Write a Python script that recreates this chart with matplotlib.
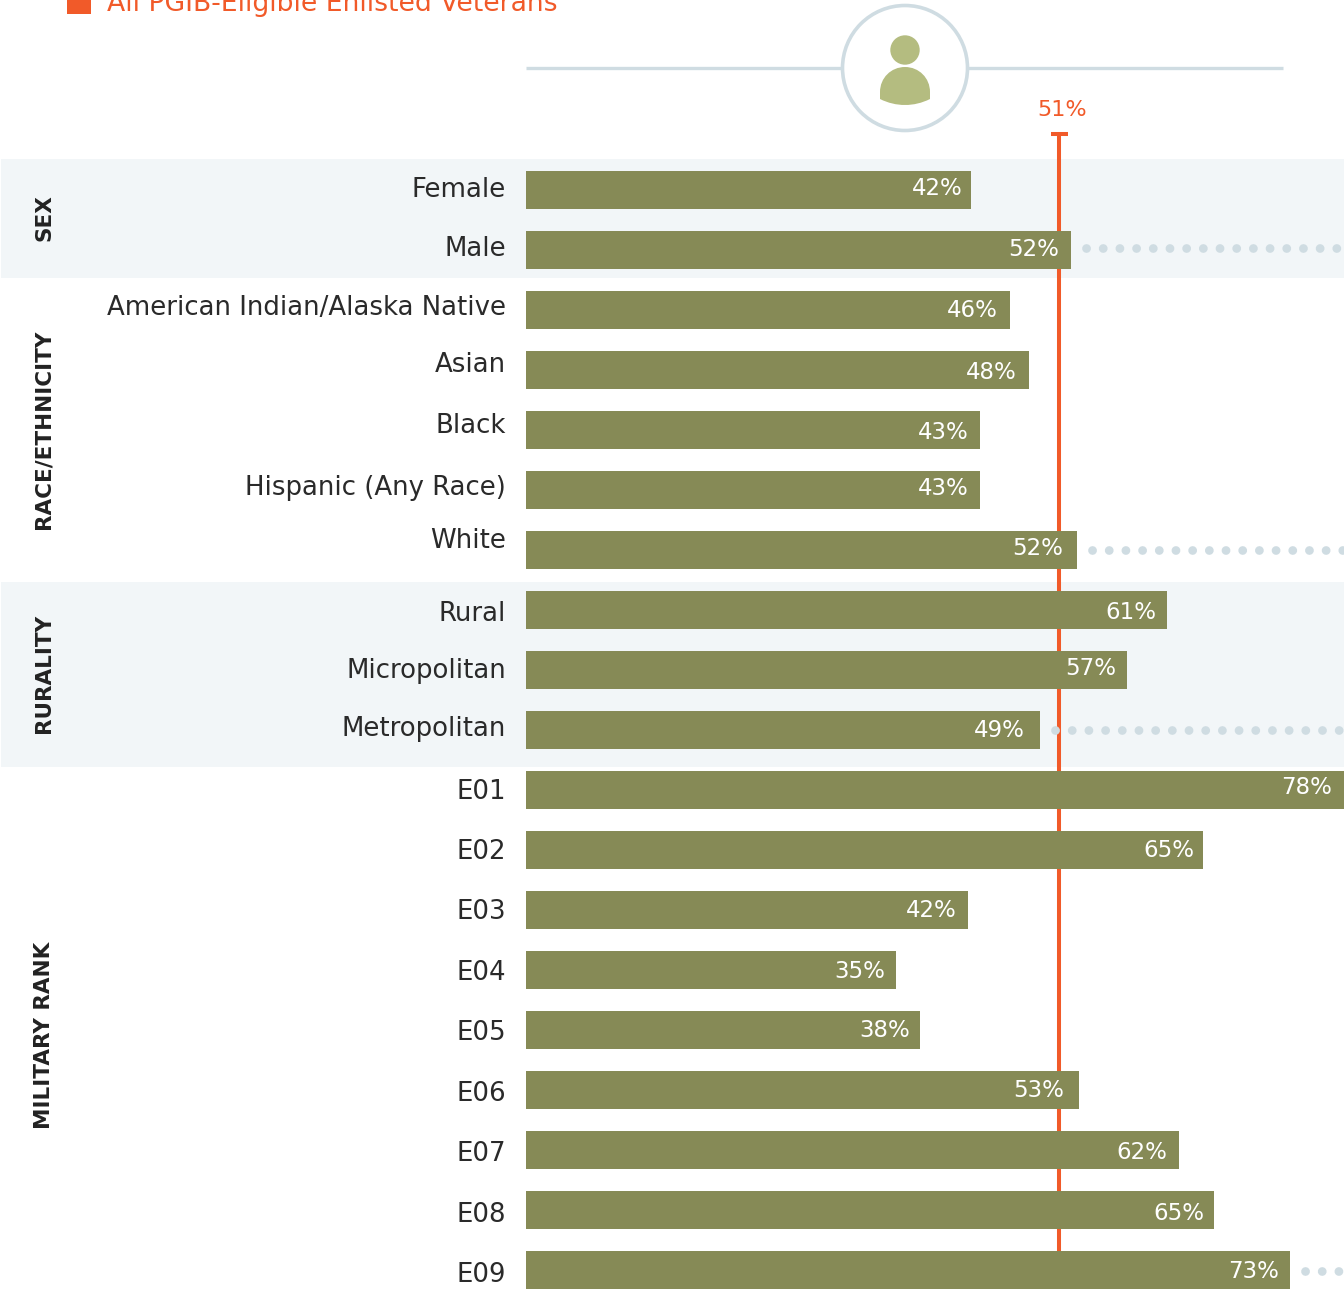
# unemployment style bar panel: PGIB eligible enlisted veterans, by group

import matplotlib
matplotlib.use("Agg")
import matplotlib.pyplot as plt
from matplotlib.patches import Circle, PathPatch, Rectangle
from matplotlib.path import Path
from matplotlib.transforms import Affine2D

categories = ["Female", "Male", "American Indian/Alaska Native", "Asian", "Black",
              "Hispanic (Any Race)", "White", "Rural", "Micropolitan", "Metropolitan",
              "E01", "E02", "E03", "E04", "E05", "E06", "E07", "E08", "E09"]
# bar lengths
values = [42.5, 52.1, 46.2, 48.0, 43.4, 43.4, 52.6, 61.2, 57.4, 49.1,
          78.1, 64.7, 42.2, 35.3, 37.6, 52.8, 62.4, 65.7, 73.0]
# printed labels, the source rounds them differently from the bar lengths
value_labels = ["42%", "52%", "46%", "48%", "43%", "43%", "52%", "61%", "57%", "49%",
                "78%", "65%", "42%", "35%", "38%", "53%", "62%", "65%", "73%"]
overall = 50.9
overall_label = "51%"
legend_label = "All PGIB-Eligible Enlisted Veterans"
dotted = ["Male", "White", "Metropolitan", "E09"]
groups = ["SEX", "RACE/ETHNICITY", "RURALITY", "MILITARY RANK"]

# layout, in pixels of the target
W, H = 1344, 1290
X0 = 526
PX_PER_UNIT = 10.47
ROW_TOP = 189.5
ROW_STEP = 60
name_base = [197, 256, 315, 372, 433, 495, 548, 621, 678, 736,
             799, 859, 919, 980, 1040, 1101, 1161, 1222, 1282]
val_base = [195, 256, 317, 379, 439, 495, 555, 619, 675, 737,
            794, 857, 917, 978, 1037, 1097, 1159, 1220, 1278]
val_right = [963, 1059, 998, 1017, 969, 969, 1063, 1156, 1116, 1025,
             1332, 1194, 957, 885, 910, 1064, 1167, 1204, 1279]
group_y = [218, 429, 673, 1035]
dot_shift = [-2, 0, 0.5, 1]

OLIVE = "#868a56"
ORANGE = "#f15a29"
PALE = "#cfdce2"
BAND = "#f2f6f8"
SAGE = "#b4bc80"

plt.rcParams["font.family"] = ["DejaVu Sans"]

fig = plt.figure(figsize=(W / 100, H / 100), dpi=100)
ax = fig.add_axes([0, 0, 1, 1])
ax.set_xlim(-X0 / PX_PER_UNIT, (W - X0) / PX_PER_UNIT)
ax.set_ylim((H - ROW_TOP) / ROW_STEP, -ROW_TOP / ROW_STEP)
ax.axis("off")

# target pixels -> display
px = Affine2D().scale(1, -1).translate(0, H)

# background bands
for top, bottom in [(159, 278), (582, 767)]:
    ax.add_patch(Rectangle((1, top), W, bottom - top, color=BAND, lw=0, transform=px, zorder=0))

# header line with the person icon
ax.plot([526, 1283], [68, 68], color=PALE, lw=2.4, transform=px, zorder=1, solid_capstyle="butt")
ax.add_patch(Circle((905, 68), 62.5, fc="white", ec=PALE, lw=2.6, transform=px, zorder=2))
ax.add_patch(Circle((905, 50), 14.7, fc=SAGE, lw=0, transform=px, zorder=3))
body = Path([(880, 99), (880, 92), (880, 78), (891, 67), (905, 67), (919, 67), (930, 78), (930, 92),
             (930, 99), (914, 107), (896, 107), (880, 99)],
            [Path.MOVETO, Path.LINETO, Path.CURVE4, Path.CURVE4, Path.CURVE4, Path.CURVE4,
             Path.CURVE4, Path.CURVE4, Path.LINETO, Path.CURVE4, Path.CURVE4, Path.CURVE4])
ax.add_patch(PathPatch(body, fc=SAGE, lw=0, transform=px, zorder=3))

# legend, runs off the top of the picture in the source too
ax.add_patch(Rectangle((67, -5), 24, 19, color=ORANGE, lw=0, transform=px, zorder=3))
ax.text(107, 11, legend_label, color=ORANGE, fontsize=19.2,
        transform=px, va="baseline", ha="left")

# overall reference line
rows = list(range(len(categories)))
ax.plot([overall, overall], [-0.92, rows[-1]], color=ORANGE, lw=2.9, zorder=2, solid_capstyle="butt")
ax.plot([1051, 1068], [134, 134], color=ORANGE, lw=2.9, transform=px, zorder=2, solid_capstyle="butt")
ax.text(1062, 116, overall_label, color=ORANGE, fontsize=16,
        transform=px, ha="center", va="baseline")

# bars
ax.barh(rows, values, height=38 / ROW_STEP, color=OLIVE, zorder=3)

# dotted leaders out to the edge
for name, shift in zip(dotted, dot_shift):
    i = categories.index(name)
    y = i + shift / ROW_STEP
    ax.plot([values[i] + 15 / PX_PER_UNIT, (W - X0) / PX_PER_UNIT], [y, y], color=PALE, lw=6.3,
            linestyle=(0, (0.01, 11.95 / 6.3)), dash_capstyle="round", zorder=4)

for i in rows:
    ax.text(506, name_base[i], categories[i], color="#2a2a2a", fontsize=18.7,
            transform=px, ha="right", va="baseline")
    ax.text(val_right[i], val_base[i], value_labels[i], color="white", fontsize=16.5,
            transform=px, ha="right", va="baseline", zorder=5)

for label, y in zip(groups, group_y):
    ax.text(44, y, label, color="#222222", fontsize=15.5, fontweight="bold", rotation=90,
            transform=px, ha="center", va="center")

fig.savefig("out.png", dpi=100)
